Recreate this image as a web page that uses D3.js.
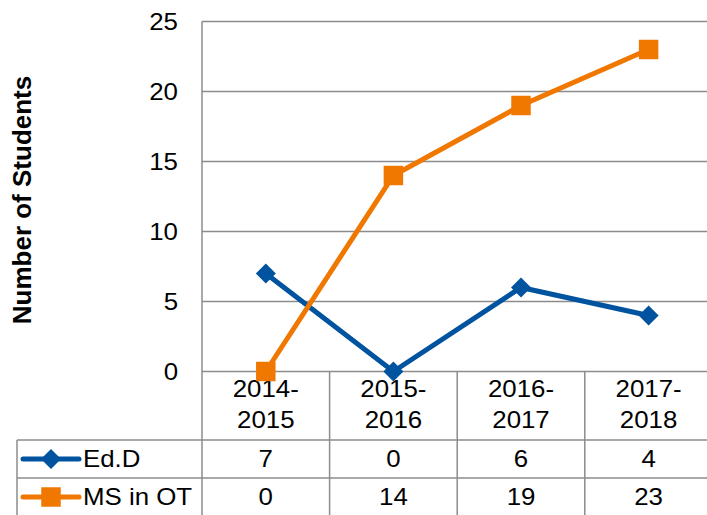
<!DOCTYPE html>
<html lang="en">
    <head>
        <meta charset="utf-8">
        <script type="text/javascript" src="https://cdn.jsdelivr.net/npm/d3@7/dist/d3.min.js"></script>
        <style type="text/css">
            body { margin: 0; background: #ffffff; }
            text { font-family: Arial, "Liberation Sans", sans-serif; fill: #000000; }
            .grid { stroke: #8c8c8c; stroke-width: 1.5; }
        </style>
    </head>
    <body>
        <script type="text/javascript">
            // chart data
            var categories = [["2014-", "2015"], ["2015-", "2016"], ["2016-", "2017"], ["2017-", "2018"]];
            var seriesNames = ["Ed.D", "MS in OT"];
            var edD = [7, 0, 6, 4];
            var msOT = [0, 14, 19, 23];
            var yTicks = [0, 5, 10, 15, 20, 25];

            var W = 707, H = 515;
            var plotLeft = 202, bandW = 127.6;
            var tableLeft = 17;
            var rowTops = [371.5, 440, 478, 516];
            var fontSize = "23.5px";
            var stretch = 1.1;

            var ids = categories.map(function(c) { return c.join(""); });

            var xScale = d3.scaleBand()
                .domain(ids)
                .range([plotLeft, plotLeft + bandW * ids.length]);
            var yScale = d3.scaleLinear()
                .domain([0, 25])
                .range([371.5, 21.5]);

            var svg = d3.select("body").append("svg")
                .attr("width", W)
                .attr("height", H);

            // text helper: the original text is a bit wider than plain Arial
            function label(x, y, txt, anchor) {
                return svg.append("text")
                    .attr("transform", "translate(" + x + "," + y + ") scale(" + stretch + ",1)")
                    .attr("dy", "0.35em")
                    .attr("text-anchor", anchor || "middle")
                    .style("font-size", fontSize)
                    .text(txt);
            }

            // horizontal gridlines in plot area
            svg.selectAll("line.hgrid")
                .data(yTicks)
                .enter()
                .append("line")
                .attr("class", "grid")
                .attr("x1", plotLeft).attr("x2", W)
                .attr("y1", function(d) { return yScale(d); })
                .attr("y2", function(d) { return yScale(d); });

            // y axis line running down through the table
            svg.append("line").attr("class", "grid")
                .attr("x1", plotLeft).attr("x2", plotLeft)
                .attr("y1", yScale(25)).attr("y2", H);

            // tick labels
            yTicks.forEach(function(d) {
                label(178, yScale(d), d, "end");
            });

            // y-label
            svg.append("text")
                .attr("transform", "translate(31,200) rotate(-90)")
                .attr("text-anchor", "middle")
                .style("font-size", "26px")
                .style("font-weight", "bold")
                .text("Number of Students");

            // data table lines
            svg.append("line").attr("class", "grid")
                .attr("x1", tableLeft).attr("x2", W)
                .attr("y1", rowTops[1]).attr("y2", rowTops[1]);
            svg.append("line").attr("class", "grid")
                .attr("x1", tableLeft).attr("x2", W)
                .attr("y1", rowTops[2]).attr("y2", rowTops[2]);
            svg.append("line").attr("class", "grid")
                .attr("x1", tableLeft).attr("x2", tableLeft)
                .attr("y1", rowTops[1]).attr("y2", H);
            svg.selectAll("line.vgrid")
                .data(ids.slice(1))
                .enter()
                .append("line")
                .attr("class", "grid")
                .attr("x1", function(d) { return xScale(d); })
                .attr("x2", function(d) { return xScale(d); })
                .attr("y1", rowTops[0]).attr("y2", H);

            // category labels (two lines)
            categories.forEach(function(c, i) {
                var cx = xScale(ids[i]) + xScale.bandwidth() / 2;
                label(cx, 389, c[0]);
                label(cx, 420, c[1]);
            });

            var series = [
                {name: seriesNames[0], values: edD, color: "#00539f", shape: d3.symbolSquare, size: 200, rot: 45},
                {name: seriesNames[1], values: msOT, color: "#f07800", shape: d3.symbolSquare, size: 380, rot: 0}
            ];

            var line = d3.line()
                .x(function(d, i) { return xScale(ids[i]) + xScale.bandwidth() / 2; })
                .y(function(d) { return yScale(d); });

            series.forEach(function(s, si) {
                svg.append("path")
                    .attr("d", line(s.values))
                    .attr("fill", "none")
                    .attr("stroke", s.color)
                    .attr("stroke-width", 5);

                var sym = d3.symbol().type(s.shape).size(s.size);
                svg.selectAll("path.m" + si)
                    .data(s.values)
                    .enter()
                    .append("path")
                    .attr("d", sym)
                    .attr("fill", s.color)
                    .attr("transform", function(d, i) {
                        return "translate(" + (xScale(ids[i]) + xScale.bandwidth() / 2) + "," + yScale(d) + ") rotate(" + s.rot + ")";
                    });

                // table row
                var cy = (rowTops[si + 1] + rowTops[si + 2]) / 2;
                if (si === 1) cy = 497;
                svg.append("line")
                    .attr("x1", 23).attr("x2", 79)
                    .attr("y1", cy).attr("y2", cy)
                    .attr("stroke", s.color)
                    .attr("stroke-width", 5)
                    .attr("stroke-linecap", "round");
                svg.append("path")
                    .attr("d", sym)
                    .attr("fill", s.color)
                    .attr("transform", "translate(51," + cy + ") rotate(" + s.rot + ")");
                label(83, cy, s.name, "start");
                s.values.forEach(function(d, i) {
                    label(xScale(ids[i]) + xScale.bandwidth() / 2, cy, d);
                });
            });
        </script>
    </body>
</html>
